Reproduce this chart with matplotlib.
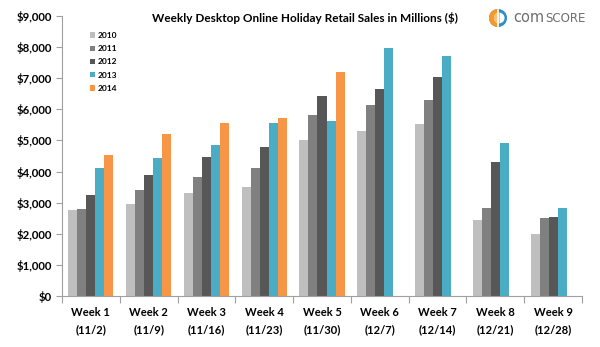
import matplotlib
matplotlib.use("Agg")
import matplotlib.pyplot as plt
import numpy as np
from matplotlib.patches import Wedge, Circle

# Weekly desktop online holiday retail sales, $ millions
weeks = ["Week 1\n(11/2)", "Week 2\n(11/9)", "Week 3\n(11/16)", "Week 4\n(11/23)",
         "Week 5\n(11/30)", "Week 6\n(12/7)", "Week 7\n(12/14)", "Week 8\n(12/21)",
         "Week 9\n(12/28)"]
years = ["2010", "2011", "2012", "2013", "2014"]
sales_2010 = [2750, 2970, 3320, 3510, 5030, 5310, 5520, 2440, 1990]
sales_2011 = [2800, 3400, 3820, 4100, 5820, 6130, 6310, 2840, 2500]
sales_2012 = [3250, 3900, 4470, 4780, 6440, 6640, 7030, 4320, 2530]
sales_2013 = [4100, 4440, 4840, 5570, 5620, 7980, 7720, 4910, 2820]
sales_2014 = [4520, 5220, 5550, 5710, 7200, np.nan, np.nan, np.nan, np.nan]
yticks = [0, 1000, 2000, 3000, 4000, 5000, 6000, 7000, 8000, 9000]

series = [sales_2010, sales_2011, sales_2012, sales_2013, sales_2014]
colors = ["#BFBFBF", "#808080", "#575757", "#4BACC6", "#F79646"]

plt.rcParams["font.family"] = ["Lato", "DejaVu Sans"]

fig = plt.figure(figsize=(6.0, 3.47), dpi=100)
ax = fig.add_axes([62 / 600, 51 / 347, 520 / 600, 280 / 347])

x = np.arange(len(weeks))
bw = 0.156
for i, (vals, c, yr) in enumerate(zip(series, colors, years)):
    ax.bar(x + (i - 2) * bw, vals, width=bw, color=c, label=yr, linewidth=0)

ax.set_xlim(-0.5, len(weeks) - 0.5)
ax.set_ylim(0, 9000)
ax.set_yticks(yticks)
ax.set_yticklabels([f"${v:,}" for v in yticks], fontsize=8.2, fontweight="bold")
ax.set_xticks(np.arange(len(weeks) + 1) - 0.5)
ax.set_xticklabels([])
ax.set_xticks(x, minor=True)
ax.set_xticklabels(weeks, minor=True, fontsize=8, fontweight="bold",
                   linespacing=1.65)
ax.tick_params(axis="x", which="minor", length=0, pad=8)
ax.tick_params(axis="x", which="major", length=5, color="#A0A0A0", width=0.8)
ax.tick_params(axis="y", length=4, color="#A0A0A0", width=0.8, pad=3)

for s in ["top", "right"]:
    ax.spines[s].set_visible(False)
for s in ["left", "bottom"]:
    ax.spines[s].set_color("#A0A0A0")
    ax.spines[s].set_linewidth(0.8)

ax.legend(loc="upper left", bbox_to_anchor=(0.04, 0.97), frameon=False,
          handlelength=0.6, handleheight=0.6, handletextpad=0.3,
          labelspacing=0.75, prop={"size": 6, "weight": "bold"})

fig.text(305 / 600, 1 - 18 / 347,
         "Weekly Desktop Online Holiday Retail Sales in Millions ($)",
         ha="center", va="center", fontsize=8.5, fontweight="bold")

# comScore logo mark and wordmark
lax = fig.add_axes([488 / 600, 1 - 28 / 347, 20 / 600, 20 / 347])
lax.set_xlim(-1.2, 1.2)
lax.set_ylim(-1.2, 1.2)
lax.set_aspect("equal")
lax.axis("off")
lax.add_patch(Circle((0, 0), 1.0, color="#2E8FC9"))
lax.add_patch(Wedge((0, 0), 1.0, 90, 270, color="#F39A2B"))
lax.add_patch(Circle((0.15, 0), 0.55, color="white"))
lax.add_patch(Wedge((0.15, 0), 0.55, 90, 270, color="#F5C07A"))
lax.plot([0, 0], [-1.0, 1.0], color="white", lw=1.2)

com = fig.text(513 / 600, 1 - 22 / 347, "com", ha="left", va="baseline",
               fontsize=10.5, color="#6E6E6E", family=["DejaVu Sans"])
fig.add_artist(plt.Annotation("SCORE", xy=(1, 0), xycoords=com,
                              xytext=(0.5, 0), textcoords="offset points",
                              ha="left", va="bottom", fontsize=8.5,
                              color="#6E6E6E", family=["DejaVu Sans"]))

fig.savefig("out.png", dpi=100)
